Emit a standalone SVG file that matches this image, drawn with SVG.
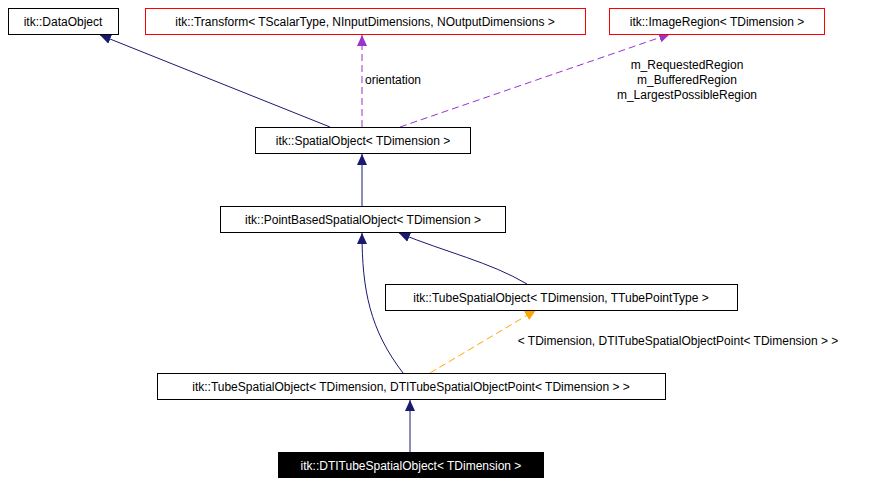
<svg xmlns="http://www.w3.org/2000/svg" width="879" height="484" viewBox="0 0 879 484">
<style>
text{font-family:"Liberation Sans",Arial,sans-serif;font-size:12px;text-anchor:middle}
.n rect{fill:#fff;stroke:#000;stroke-width:1}
.r rect{stroke:#f00}
.e{fill:none;stroke:#191970;stroke-width:1}
.p{fill:none;stroke:#9a32cd;stroke-width:1;stroke-dasharray:7,4}
.o{fill:none;stroke:#ffa500;stroke-width:1;stroke-dasharray:7,4}
</style>
<defs>
<marker id="an" markerWidth="12" markerHeight="10" refX="11" refY="5" orient="auto" markerUnits="userSpaceOnUse"><path d="M0,0L11,5L0,10z" fill="#191970"/></marker>
<marker id="ap" markerWidth="12" markerHeight="10" refX="11" refY="5" orient="auto" markerUnits="userSpaceOnUse"><path d="M0,0L11,5L0,10z" fill="#9a32cd"/></marker>
<marker id="ao" markerWidth="12" markerHeight="10" refX="11" refY="5" orient="auto" markerUnits="userSpaceOnUse"><path d="M0,0L11,5L0,10z" fill="#ffa500"/></marker>
</defs>
<rect width="879" height="484" fill="#fff"/>
<g id="connectors">
<path class="e" d="M330,127L100,35" marker-end="url(#an)"/>
<path class="p" d="M362,127L362,35" marker-end="url(#ap)"/>
<text x="393" y="84">orientation</text>
<path class="p" d="M400,127L670,34" marker-end="url(#ap)"/>
<text x="687" y="69">m_RequestedRegion</text>
<text x="687" y="84">m_BufferedRegion</text>
<text x="687" y="99">m_LargestPossibleRegion</text>
<path class="e" d="M362,206L362,154" marker-end="url(#an)"/>
<path class="e" d="M527,284C490,262 445,252 399,233" marker-end="url(#an)"/>
<path class="e" d="M403,373C370,330 362,290 362,233" marker-end="url(#an)"/>
<path class="o" d="M430,373L536,310" marker-end="url(#ao)"/>
<text x="678" y="345">&lt; TDimension, DTITubeSpatialObjectPoint&lt; TDimension &gt; &gt;</text>
<path class="e" d="M410,452L410,400" marker-end="url(#an)"/>
</g>
<g id="dataobject" class="n"><rect x="8.5" y="8.5" width="110" height="26"/><text x="63" y="26">itk::DataObject</text></g>
<g id="transform" class="n r"><rect x="145.5" y="8.5" width="440" height="26"/><text x="365" y="26">itk::Transform&lt; TScalarType, NInputDimensions, NOutputDimensions &gt;</text></g>
<g id="imageregion" class="n r"><rect x="609.5" y="8.5" width="215" height="26"/><text x="717" y="26">itk::ImageRegion&lt; TDimension &gt;</text></g>
<g id="spatialobject" class="n"><rect x="255.5" y="127.5" width="215" height="26"/><text x="363" y="145">itk::SpatialObject&lt; TDimension &gt;</text></g>
<g id="pointbased" class="n"><rect x="220.5" y="206.5" width="285" height="26"/><text x="363" y="224">itk::PointBasedSpatialObject&lt; TDimension &gt;</text></g>
<g id="tube" class="n"><rect x="385.5" y="284.5" width="352" height="26"/><text x="561" y="302">itk::TubeSpatialObject&lt; TDimension, TTubePointType &gt;</text></g>
<g id="tubedti" class="n"><rect x="157.5" y="373.5" width="508" height="26"/><text x="411" y="391">itk::TubeSpatialObject&lt; TDimension, DTITubeSpatialObjectPoint&lt; TDimension &gt; &gt;</text></g>
<g id="dti"><rect x="278" y="452" width="266" height="26" fill="#000"/><text x="411" y="470" fill="#fff">itk::DTITubeSpatialObject&lt; TDimension &gt;</text></g>
</svg>
